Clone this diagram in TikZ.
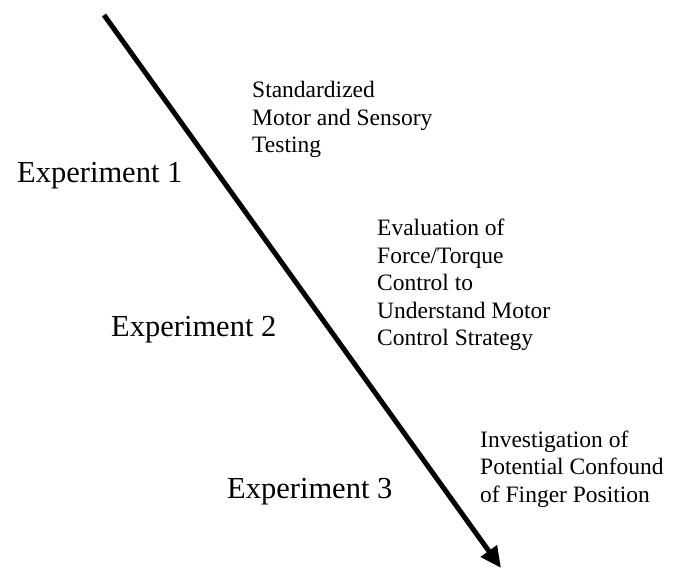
\documentclass[tikz,border=0pt]{standalone}
\usepackage{fontspec}
\setmainfont{Liberation Serif}
\usetikzlibrary{arrows.meta}
\begin{document}
\begin{tikzpicture}[x=1pt,y=-1pt,
  exper/.style={anchor=base west,inner sep=0pt,font=\fontsize{30.5}{36}\selectfont},
  desc/.style={anchor=base west,inner sep=0pt,align=left,font=\fontsize{23.5}{27.5}\selectfont},
  timeline/.style={line width=5pt,-{Triangle[length=21pt,width=19pt]}}]
\useasboundingbox (0,0) rectangle (678,569);
\coordinate (start) at (104,15);
\coordinate (end) at (501,568);
\draw[timeline] (start) -- (end);
\node[exper] (e1) at (17,183) {Experiment 1};
\node[exper] (e2) at (111,337) {Experiment 2};
\node[exper] (e3) at (227,498) {Experiment 3};
\node[desc] (d1) at (252,153) {Standardized\\Motor and Sensory\\Testing};
\node[desc] (d2) at (377,346) {Evaluation of\\Force/Torque\\Control to\\Understand Motor\\Control Strategy};
\node[desc] (d3) at (480,502) {Investigation of\\Potential Confound\\of Finger Position};
\end{tikzpicture}
\end{document}
